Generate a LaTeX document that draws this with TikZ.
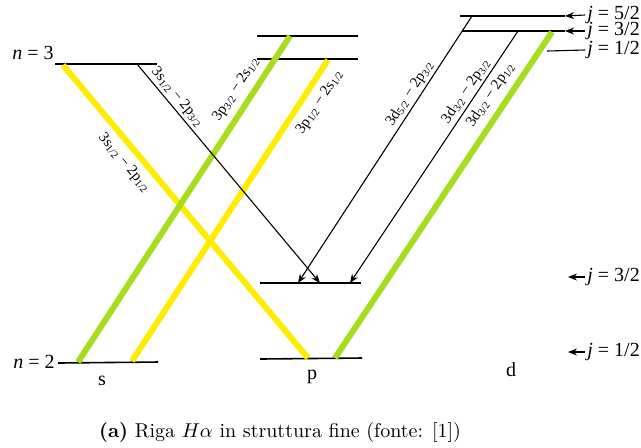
\documentclass[tikz,border=0pt]{standalone}
\usepackage{fontspec}
\usetikzlibrary{arrows.meta}
\newfontfamily\bookfont{Liberation Serif}
\definecolor{hyellow}{RGB}{255,236,0}
\definecolor{hgreen}{RGB}{168,220,30}
\tikzset{
  >={Stealth[length=4.5pt,width=3.5pt]},
  lvl/.style={line width=0.8pt},
  trans/.style={->,line width=0.55pt},
  band/.style={line width=3pt,draw=#1},
  band/.default=hyellow,
  tag/.style={font=\bookfont\fontsize{10}{12}\selectfont,inner sep=1pt},
  tlabel/.style={font=\bookfont\fontsize{7.5}{9}\selectfont,sloped,inner sep=1.2pt},
}

\begin{document}
\begin{tikzpicture}[x=0.5pt,y=-0.5pt]
  \useasboundingbox (0,0) rectangle (641,447);
  % energy levels
  \coordinate (s3l) at (55,64);   \coordinate (s3r) at (157,64);
  \coordinate (p3al) at (257,36); \coordinate (p3ar) at (358,36);
  \coordinate (p3bl) at (257,59); \coordinate (p3br) at (358,59);
  \coordinate (d5l) at (460,16);  \coordinate (d5r) at (565,16);
  \coordinate (d3l) at (462,31);  \coordinate (d3r) at (565,31);
  \coordinate (p2al) at (260,283); \coordinate (p2ar) at (361,283);
  \coordinate (p2bl) at (260,359); \coordinate (p2br) at (362,358);
  \coordinate (s2l) at (58,363);  \coordinate (s2r) at (158,362);
  \foreach \a/\b in {s3l/s3r,p3al/p3ar,p3bl/p3br,d5l/d5r,d3l/d3r,p2al/p2ar,p2bl/p2br,s2l/s2r}
    \draw[lvl] (\a) -- (\b);
  % end points of the lines
  \coordinate (t1a) at (63,65);   \coordinate (t1b) at (308,358);
  \coordinate (t2a) at (137,64);  \coordinate (t2b) at (320,283);
  \coordinate (t3a) at (78,362);  \coordinate (t3b) at (290,36);
  \coordinate (t4a) at (132,361); \coordinate (t4b) at (328,60);
  \coordinate (t5a) at (472,16);  \coordinate (t5b) at (298,283);
  \coordinate (t6a) at (518,31);  \coordinate (t6b) at (350,283);
  \coordinate (t7a) at (552,32);  \coordinate (t7b) at (335,358);
  % coloured lines
  \draw[band] (t1a) -- (t1b) node[tlabel,pos=0.30,below=2pt] {3s\textsubscript{1/2} − 2p\textsubscript{1/2}};
  \draw[band=hgreen] (t3a) -- (t3b) node[tlabel,pos=0.81,above=2pt] {3p\textsubscript{3/2} − 2s\textsubscript{1/2}};
  \draw[band] (t4a) -- (t4b) node[tlabel,pos=0.89,below=2pt] {3p\textsubscript{1/2} − 2s\textsubscript{1/2}};
  \draw[band=hgreen] (t7a) -- (t7b) node[tlabel,pos=0.22,above=2pt] {3d\textsubscript{3/2} − 2p\textsubscript{1/2}};
  % thin transitions
  \draw[trans] (t2a) -- (t2b) node[tlabel,pos=0.18,above] {3s\textsubscript{1/2} − 2p\textsubscript{3/2}};
  \draw[trans] (t5a) -- (t5b) node[tlabel,pos=0.31,above] {3d\textsubscript{5/2} − 2p\textsubscript{3/2}};
  \draw[trans] (t6a) -- (t6b) node[tlabel,pos=0.26,above] {3d\textsubscript{3/2} − 2p\textsubscript{3/2}};
  % labels
  \node[tag] (n3) at (33,53) {\textit{n} = 3};
  \node[tag] (n2) at (34,362) {\textit{n} = 2};
  \node[tag] (ls) at (102,381) {s};
  \node[tag] (lp) at (312,377) {p};
  \node[tag] (ld) at (511,370) {d};
  \node[tag,anchor=west] (j52) at (585,15) {\textit{j} = 5/2};
  \node[tag,anchor=west] (j32) at (585,31) {\textit{j} = 3/2};
  \node[tag,anchor=west] (j12) at (585,50) {\textit{j} = 1/2};
  \node[tag,anchor=west] (jb32) at (585,277) {\textit{j} = 3/2};
  \node[tag,anchor=west] (jb12) at (585,352) {\textit{j} = 1/2};
  \coordinate (j12a) at (547,51);
  \coordinate (jb32a) at (568,277);
  \coordinate (jb12a) at (568,352);
  \draw[trans] (j52.west) -- (d5r);
  \draw[trans] (j32.west) -- (d3r);
  \draw[line width=0.55pt] (j12.west) -- (j12a);
  \draw[trans] (jb32.west) -- (jb32a);
  \draw[trans] (jb12.west) -- (jb12a);
  % caption
  \node (cap) at (280,432) {\textbf{(a)} Riga $H\alpha$ in struttura fine (fonte: [1])};
\end{tikzpicture}
\end{document}
